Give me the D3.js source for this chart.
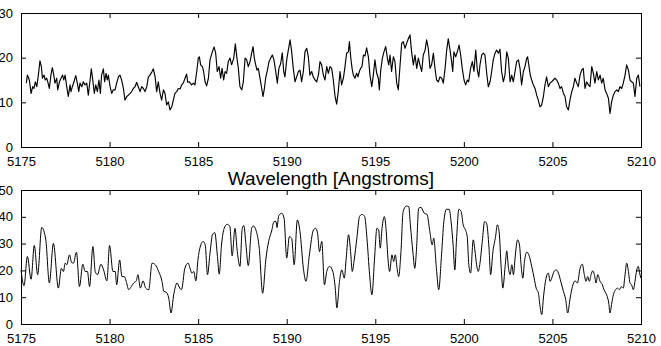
<!DOCTYPE html>
<html>
<head>
<meta charset="utf-8">
<script src="https://cdn.jsdelivr.net/npm/d3@7"></script>
<style>
  html, body { margin: 0; padding: 0; background: #fff; }
  svg { display: block; }
  text { font-family: "Liberation Sans", Arial, Helvetica, sans-serif; fill: #000; }
</style>
</head>
<body>
<svg id="chart" width="661" height="346"></svg>
<script>
// ---------- data ----------
const xTicks = [5175, 5180, 5185, 5190, 5195, 5200, 5205, 5210];
const topYTicks = [0, 10, 20, 30];
const bottomYTicks = [0, 10, 20, 30, 40, 50];
const xLabel = "Wavelength [Angstroms]";

const topWavelength = [
  5175.30,5175.36,5175.47,5175.57,5175.66,5175.73,5175.81,5175.89,5175.98,5176.07,
  5176.15,5176.21,5176.30,5176.37,5176.45,5176.53,5176.60,5176.69,5176.77,5176.85,
  5176.92,5177.02,5177.07,5177.17,5177.26,5177.35,5177.41,5177.49,5177.58,5177.67,
  5177.77,5177.82,5177.90,5177.99,5178.09,5178.18,5178.26,5178.33,5178.43,5178.52,
  5178.61,5178.71,5178.80,5178.90,5178.97,5179.05,5179.14,5179.22,5179.31,5179.40,
  5179.48,5179.55,5179.65,5179.72,5179.80,5179.87,5179.93,5180.03,5180.12,5180.21,
  5180.31,5180.40,5180.50,5180.59,5180.68,5180.78,5180.87,5180.97,5181.06,5181.16,
  5181.25,5181.34,5181.44,5181.53,5181.62,5181.72,5181.81,5181.91,5182.00,5182.10,
  5182.19,5182.28,5182.40,5182.47,5182.57,5182.66,5182.75,5182.85,5182.94,5183.04,
  5183.13,5183.22,5183.32,5183.41,5183.51,5183.60,5183.69,5183.79,5183.88,5183.98,
  5184.07,5184.16,5184.26,5184.35,5184.41,5184.48,5184.56,5184.63,5184.73,5184.82,
  5184.92,5185.01,5185.07,5185.14,5185.24,5185.31,5185.39,5185.48,5185.58,5185.67,
  5185.80,5185.90,5185.99,5186.08,5186.18,5186.27,5186.35,5186.44,5186.52,5186.61,
  5186.70,5186.80,5186.89,5187.01,5187.10,5187.19,5187.27,5187.36,5187.46,5187.55,
  5187.65,5187.74,5187.83,5187.93,5188.02,5188.10,5188.17,5188.25,5188.32,5188.40,
  5188.49,5188.59,5188.66,5188.74,5188.81,5188.91,5189.00,5189.09,5189.19,5189.28,
  5189.38,5189.47,5189.56,5189.66,5189.75,5189.83,5189.90,5190.00,5190.09,5190.19,
  5190.28,5190.37,5190.47,5190.56,5190.66,5190.75,5190.84,5190.94,5191.03,5191.13,
  5191.22,5191.31,5191.41,5191.50,5191.60,5191.69,5191.79,5191.88,5191.97,5192.07,
  5192.16,5192.26,5192.35,5192.44,5192.54,5192.63,5192.73,5192.82,5192.91,5193.01,
  5193.10,5193.20,5193.29,5193.38,5193.48,5193.54,5193.61,5193.69,5193.76,5193.85,
  5193.95,5194.02,5194.10,5194.17,5194.25,5194.33,5194.42,5194.51,5194.61,5194.70,
  5194.80,5194.89,5194.98,5195.08,5195.17,5195.23,5195.30,5195.40,5195.49,5195.59,
  5195.68,5195.76,5195.83,5195.92,5196.02,5196.11,5196.21,5196.30,5196.40,5196.49,
  5196.58,5196.68,5196.77,5196.87,5196.96,5197.05,5197.15,5197.24,5197.34,5197.43,
  5197.52,5197.62,5197.71,5197.81,5197.90,5197.99,5198.09,5198.18,5198.28,5198.37,
  5198.46,5198.56,5198.65,5198.75,5198.84,5198.94,5199.03,5199.12,5199.22,5199.31,
  5199.37,5199.44,5199.54,5199.63,5199.73,5199.82,5199.91,5200.01,5200.10,5200.20,
  5200.27,5200.38,5200.48,5200.57,5200.67,5200.76,5200.84,5200.91,5201.01,5201.10,
  5201.19,5201.29,5201.38,5201.48,5201.57,5201.66,5201.76,5201.85,5201.95,5202.04,
  5202.13,5202.23,5202.32,5202.42,5202.51,5202.61,5202.70,5202.79,5202.89,5202.98,
  5203.08,5203.17,5203.26,5203.36,5203.45,5203.55,5203.60,5203.68,5203.75,5203.83,
  5203.92,5204.02,5204.11,5204.20,5204.30,5204.39,5204.49,5204.58,5204.67,5204.77,
  5204.86,5204.96,5205.05,5205.14,5205.24,5205.33,5205.43,5205.52,5205.62,5205.71,
  5205.80,5205.90,5205.99,5206.09,5206.18,5206.27,5206.37,5206.46,5206.56,5206.65,
  5206.74,5206.84,5206.93,5207.03,5207.12,5207.22,5207.31,5207.40,5207.50,5207.59,
  5207.69,5207.78,5207.87,5207.97,5208.06,5208.16,5208.25,5208.34,5208.44,5208.53,
  5208.63,5208.72,5208.81,5208.91,5209.00,5209.10,5209.19,5209.29,5209.38,5209.47,
  5209.57,5209.66,5209.76,5209.85,5209.94
];
const topFlux = [
  14.3,16.1,15.0,12.0,13.5,13.1,14.6,13.5,16.1,19.3,
  18.0,15.4,16.1,15.0,15.4,14.3,13.1,16.1,17.8,16.1,
  14.3,15.4,12.8,14.6,15.4,16.1,15.0,16.1,13.5,11.3,
  13.9,12.4,13.5,14.6,16.0,14.3,12.4,14.3,13.5,14.6,
  13.9,14.3,11.6,15.0,17.5,15.0,12.0,13.9,12.4,15.0,
  12.0,16.1,17.5,14.6,16.5,15.0,16.1,13.5,12.0,12.8,
  12.8,14.3,15.7,16.1,15.0,13.1,10.5,11.3,11.6,12.0,
  12.4,13.1,13.5,14.5,13.5,12.4,13.5,13.1,12.4,13.5,
  15.7,16.1,16.9,17.5,15.7,12.4,14.6,12.0,10.5,12.8,
  12.0,9.4,10.1,8.3,9.0,10.5,12.0,12.4,13.1,13.0,
  13.9,14.3,15.4,16.3,14.5,14.6,14.3,13.9,14.3,13.9,
  16.9,19.9,20.2,18.4,18.0,16.9,14.6,13.7,15.4,19.5,
  21.3,22.4,21.0,16.9,18.0,15.4,17.6,15.0,16.9,16.5,
  19.1,19.9,18.4,19.9,23.1,19.9,17.6,13.5,12.8,14.6,
  19.9,19.5,18.0,19.1,21.0,22.5,19.9,18.4,17.2,17.6,
  15.4,13.1,11.3,13.1,15.4,17.2,19.1,19.9,20.6,19.5,
  16.9,14.3,17.6,18.7,21.1,16.9,15.7,19.5,21.7,24.0,
  21.3,17.6,14.6,15.7,16.9,17.2,14.6,16.9,21.3,22.1,
  20.2,16.1,16.9,15.7,15.0,14.6,16.1,19.1,18.4,16.1,
  15.0,18.0,16.5,18.0,17.6,15.0,11.3,9.6,12.4,16.9,
  13.9,15.4,18.0,21.0,21.3,23.6,20.2,17.6,16.1,15.4,
  16.5,15.7,16.9,17.6,18.0,20.6,20.4,22.2,20.2,16.1,
  13.5,16.1,19.5,16.5,15.4,12.8,16.9,19.9,21.3,22.5,
  19.9,18.4,20.6,16.9,20.2,19.1,14.3,12.8,18.4,23.2,
  23.6,22.1,23.2,24.3,25.1,21.3,18.4,20.6,17.6,19.9,
  18.4,16.9,20.6,21.7,24.0,22.1,17.6,18.4,21.0,17.6,
  15.0,14.6,15.7,15.4,14.3,17.6,21.7,24.2,21.7,19.1,
  16.9,21.3,20.2,21.3,22.8,20.6,17.6,15.0,13.9,15.0,
  14.6,17.6,19.1,16.9,21.7,17.2,15.7,18.4,20.6,21.0,
  20.6,16.5,13.5,14.6,16.9,19.5,21.0,21.7,21.0,21.9,
  16.9,14.6,16.1,21.3,19.9,14.6,16.1,14.6,16.9,19.1,
  19.5,17.6,13.9,16.9,18.0,19.9,20.2,18.0,16.1,15.0,
  13.9,13.1,11.6,10.5,9.0,9.4,11.3,13.9,15.7,13.5,
  14.3,14.6,15.0,15.4,15.0,14.3,13.1,13.5,12.0,11.3,
  9.0,8.3,10.5,12.4,13.5,15.4,14.3,13.5,16.1,17.2,
  17.6,13.1,14.6,13.9,13.5,18.0,16.5,14.3,16.9,15.0,
  16.1,14.3,15.4,12.8,12.0,10.9,7.5,10.1,11.6,12.4,
  12.8,12.4,13.5,13.1,14.3,16.1,18.4,17.2,15.0,14.6,
  14.3,11.3,15.4,16.1,13.5
];

const bottomWavelength = [
  5175.00,5175.17,5175.36,5175.57,5175.75,5175.94,5176.17,5176.40,5176.60,5176.83,
  5177.11,5177.28,5177.40,5177.49,5177.58,5177.74,5177.85,5177.96,5178.13,5178.30,
  5178.49,5178.62,5178.75,5178.87,5179.06,5179.19,5179.32,5179.51,5179.66,5179.85,
  5180.00,5180.19,5180.32,5180.40,5180.57,5180.70,5180.83,5180.94,5181.08,5181.23,
  5181.36,5181.51,5181.60,5181.74,5181.89,5182.04,5182.21,5182.40,5182.58,5182.77,
  5182.96,5183.06,5183.19,5183.34,5183.47,5183.62,5183.81,5183.96,5184.06,5184.25,
  5184.43,5184.57,5184.64,5184.75,5184.87,5185.00,5185.15,5185.28,5185.40,5185.53,
  5185.66,5185.81,5185.94,5186.09,5186.19,5186.32,5186.47,5186.64,5186.79,5186.92,
  5187.08,5187.21,5187.36,5187.49,5187.58,5187.70,5187.83,5188.02,5188.11,5188.26,
  5188.45,5188.64,5188.83,5188.98,5189.15,5189.28,5189.40,5189.45,5189.55,5189.72,
  5189.85,5190.00,5190.15,5190.28,5190.42,5190.60,5190.75,5190.94,5191.09,5191.28,
  5191.51,5191.64,5191.74,5191.85,5191.98,5192.13,5192.26,5192.42,5192.60,5192.74,
  5192.83,5192.98,5193.11,5193.25,5193.36,5193.49,5193.62,5193.70,5193.81,5193.96,
  5194.11,5194.25,5194.40,5194.53,5194.68,5194.81,5194.96,5195.09,5195.19,5195.28,
  5195.38,5195.51,5195.62,5195.70,5195.81,5195.94,5196.04,5196.13,5196.23,5196.32,
  5196.45,5196.57,5196.75,5196.89,5196.98,5197.13,5197.23,5197.32,5197.45,5197.58,
  5197.77,5197.92,5198.08,5198.21,5198.30,5198.45,5198.58,5198.74,5198.87,5199.02,
  5199.17,5199.28,5199.40,5199.49,5199.58,5199.72,5199.85,5199.96,5200.09,5200.19,
  5200.28,5200.38,5200.53,5200.62,5200.72,5200.81,5200.91,5201.04,5201.17,5201.28,
  5201.42,5201.51,5201.64,5201.79,5201.89,5201.99,5202.11,5202.20,5202.33,5202.42,
  5202.52,5202.61,5202.71,5202.80,5202.89,5203.03,5203.14,5203.23,5203.33,5203.42,
  5203.55,5203.70,5203.83,5203.97,5204.08,5204.21,5204.30,5204.40,5204.49,5204.64,
  5204.77,5204.87,5204.96,5205.09,5205.21,5205.34,5205.47,5205.62,5205.75,5205.86,
  5206.00,5206.13,5206.28,5206.41,5206.56,5206.69,5206.80,5206.90,5206.99,5207.09,
  5207.18,5207.27,5207.37,5207.46,5207.56,5207.69,5207.82,5207.91,5208.06,5208.18,
  5208.25,5208.35,5208.44,5208.57,5208.67,5208.78,5208.91,5209.00,5209.10,5209.19,
  5209.29,5209.38,5209.47,5209.57,5209.66,5209.76,5209.85,5209.92,5210.00
];
const bottomFlux = [
  20.2,14.3,25.2,16.7,29.3,18.4,36.0,31.4,15.3,30.1,
  13.4,20.8,19.6,22.7,22.1,25.8,23.0,22.7,26.8,14.0,
  22.3,19.6,19.6,14.0,28.9,19.6,18.4,22.3,20.2,16.1,
  29.3,19.6,19.6,14.6,23.9,17.7,17.7,15.9,12.8,14.0,
  15.3,16.1,18.4,13.4,16.1,13.4,12.8,22.7,22.1,19.6,
  15.9,12.2,11.9,9.7,4.1,10.9,15.3,13.4,12.8,20.8,
  22.7,20.2,19.0,19.6,16.1,24.6,29.5,30.8,29.5,18.4,
  25.8,33.3,34.1,25.2,18.6,29.5,35.7,37.2,36.4,25.4,
  35.7,27.0,21.5,35.7,36.7,29.5,21.8,35.7,36.6,35.1,
  28.3,11.5,24.6,30.8,34.7,38.2,38.2,36.0,40.4,41.3,
  39.5,24.6,32.6,32.0,22.1,38.8,34.5,20.8,15.9,25.8,
  35.1,35.7,33.9,27.0,30.8,14.6,19.6,21.5,19.6,13.4,
  6.0,15.9,20.2,17.1,24.6,33.3,25.8,19.6,23.9,32.0,
  40.1,40.9,40.1,32.0,18.4,10.9,24.6,35.7,35.1,28.3,
  35.7,40.1,34.5,25.8,19.6,25.8,23.3,25.8,20.8,17.7,
  27.0,41.9,44.0,43.8,37.0,26.4,20.8,27.0,43.2,43.5,
  41.3,40.9,34.5,29.5,32.0,20.8,12.8,25.8,38.2,42.8,
  42.8,38.2,28.9,20.2,30.8,42.8,41.9,37.0,35.1,32.6,
  22.1,19.0,31.4,27.7,22.1,19.6,22.7,30.8,38.2,37.6,
  28.3,18.4,27.0,32.6,37.0,34.5,20.8,13.4,21.5,27.3,
  20.8,18.4,22.1,18.4,24.6,31.4,29.5,22.1,17.1,23.3,
  26.8,25.2,21.5,17.1,13.4,11.5,6.6,3.5,9.7,17.1,
  19.0,15.9,17.1,19.6,20.2,19.0,15.9,12.2,9.1,4.1,
  9.7,14.0,16.1,15.3,20.8,22.3,18.4,15.9,17.7,15.9,
  18.4,19.8,18.4,15.3,18.4,15.9,14.6,12.8,10.9,7.8,
  4.1,7.8,10.9,12.8,13.4,12.8,14.0,13.4,18.4,22.7,
  19.6,15.3,14.6,12.8,15.9,20.2,21.5,19.0,17.1
];

// ---------- layout ----------
const W = 661, H = 346;
const plotLeft = 21, plotRight = 641;
const panels = [
  { top: 13, bottom: 147, yMax: 30, yTicks: topYTicks, wl: topWavelength, flux: topFlux,
    curve: d3.curveLinear, strokeWidth: 1.15 },
  { top: 190, bottom: 324, yMax: 50, yTicks: bottomYTicks, wl: bottomWavelength, flux: bottomFlux,
    curve: d3.curveMonotoneX, strokeWidth: 1.0 }
];

const svg = d3.select("#chart");
svg.append("rect").attr("width", W).attr("height", H).attr("fill", "#fff");

const x = d3.scaleLinear().domain([5175, 5210]).range([plotLeft, plotRight]);
const tickLen = 5;

panels.forEach(p => {
  const y = d3.scaleLinear().domain([0, p.yMax]).range([p.bottom, p.top]);
  const g = svg.append("g");

  const data = p.wl.map((w, i) => [w, p.flux[i]]);
  const line = d3.line().x(d => x(d[0])).y(d => y(d[1])).curve(p.curve);

  g.append("path")
    .datum(data)
    .attr("d", line)
    .attr("fill", "none")
    .attr("stroke", "#000")
    .attr("stroke-width", p.strokeWidth)
    .attr("stroke-linejoin", "round");

  // bottom axis (ticks inward, labels below)
  const bx = g.append("g").attr("transform", `translate(0,${p.bottom})`)
    .call(d3.axisBottom(x).tickValues(xTicks).tickSizeInner(-tickLen).tickSizeOuter(0).tickPadding(10)
      .tickFormat(d3.format("d")));
  // top axis (ticks inward, no labels)
  const tx = g.append("g").attr("transform", `translate(0,${p.top})`)
    .call(d3.axisTop(x).tickValues(xTicks).tickSizeInner(-tickLen).tickSizeOuter(0).tickFormat(""));
  // left axis
  const ly = g.append("g").attr("transform", `translate(${plotLeft},0)`)
    .call(d3.axisLeft(y).tickValues(p.yTicks).tickSizeInner(-tickLen).tickSizeOuter(0).tickPadding(8)
      .tickFormat(d3.format("d")));
  // right axis
  const ry = g.append("g").attr("transform", `translate(${plotRight},0)`)
    .call(d3.axisRight(y).tickValues(p.yTicks).tickSizeInner(-tickLen).tickSizeOuter(0).tickFormat(""));

  [bx, tx, ly, ry].forEach(a => {
    a.select(".domain").remove();
    a.selectAll(".tick line").attr("stroke", "#000").attr("stroke-width", 1);
    a.selectAll("text").attr("font-size", 13).attr("fill", "#000")
      .attr("font-family", '"Liberation Sans", Arial, Helvetica, sans-serif');
  });

  // frame box
  g.append("rect")
    .attr("x", plotLeft + 0.5).attr("y", p.top + 0.5)
    .attr("width", plotRight - plotLeft).attr("height", p.bottom - p.top)
    .attr("fill", "none").attr("stroke", "#000").attr("stroke-width", 1);
});

// x label of upper panel
svg.append("text")
  .attr("x", (plotLeft + plotRight) / 2)
  .attr("y", 185)
  .attr("text-anchor", "middle")
  .attr("font-size", 19)
  .text(xLabel);
</script>
</body>
</html>
